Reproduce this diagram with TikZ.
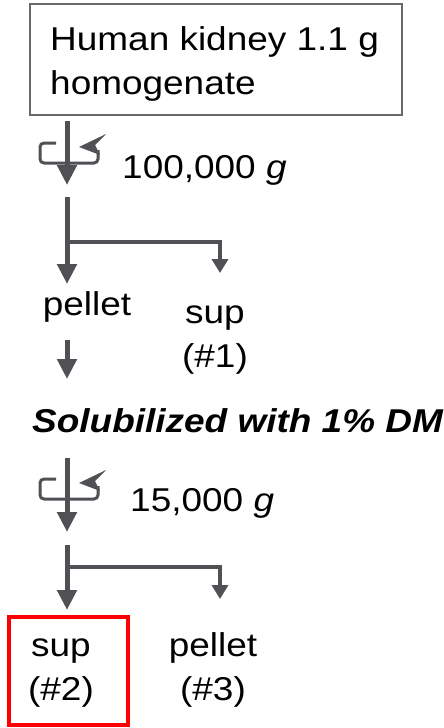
\documentclass[tikz,border=0pt]{standalone}
\usepackage{fontspec}
\setmainfont{Liberation Sans}[FakeStretch=1.12]
\usetikzlibrary{arrows.meta,positioning}
\definecolor{flowgray}{RGB}{80,80,85}
\definecolor{framegray}{RGB}{105,105,105}
\newcommand{\bigtxt}{\fontsize{33}{44}\selectfont}

\begin{document}
\begin{tikzpicture}[
    x=1pt, y=-1pt,
    box/.style={rectangle, draw=framegray, line width=1.5pt, minimum width=372pt, minimum height=111pt},
    lbl/.style={inner sep=0pt, align=center, font=\bigtxt},
    arrow/.style={-{Triangle[length=20pt,width=19pt]}, line width=5pt, draw=flowgray},
    branch/.style={-{Triangle[length=14pt,width=16pt]}, line width=4pt, draw=flowgray},
    spin/.style={line width=3pt, draw=flowgray, rounded corners=4pt},
    spinhead/.style={fill=flowgray},
    hilite/.style={draw=red, line width=4pt}
]
    \useasboundingbox (0,0) rectangle (444,728);

    % first spin
    \node[box] (homog) at (216,59.5) {};
    \node[lbl, align=left, anchor=base west] (homogtxt) at (50,94) {Human kidney 1.1 g\\homogenate};
    \coordinate (spin1top) at (67,121);
    \coordinate (spin1tip) at (67,185);
    \draw[arrow] (spin1top) -- (spin1tip);
    \draw[spin] (56,143) -- (40,143) -- (40,163) -- (98,163) -- (98,150);
    \fill[spinhead] (79,147) -- (106,134) -- (95,145) -- (100,155) -- cycle;
    \node[lbl, anchor=base west] (speed1) at (122,178) {100,000 \textit{g}};

    \coordinate (split1top) at (67,197);
    \coordinate (split1fork) at (67,242);
    \coordinate (pellet1in) at (67,284);
    \coordinate (sup1in) at (220,273);
    \draw[arrow] (split1top) -- (pellet1in);
    \draw[branch] (split1fork) -| (sup1in);

    \node[lbl, anchor=base] (pellet1) at (87,315) {pellet};
    \node[lbl, anchor=base] (sup1) at (215,367) {sup\\(\#1)};
    \coordinate (pellet1out) at (67,340);
    \coordinate (solubin) at (67,379);
    \draw[arrow] (pellet1out) -- (solubin);

    % second spin
    \node[lbl, anchor=base west, font=\bigtxt\bfseries\itshape] (solub) at (32,432) {Solubilized with 1\% DM};
    \coordinate (spin2top) at (67,458);
    \coordinate (spin2tip) at (67,532);
    \draw[arrow] (spin2top) -- (spin2tip);
    \draw[spin] (56,479) -- (40,479) -- (40,499) -- (98,499) -- (98,486);
    \fill[spinhead] (79,483) -- (106,470) -- (95,481) -- (100,491) -- cycle;
    \node[lbl, anchor=base west] (speed2) at (130,511) {15,000 \textit{g}};

    \coordinate (split2top) at (67,545);
    \coordinate (split2fork) at (67,567);
    \coordinate (sup2in) at (67,610);
    \coordinate (pellet2in) at (220,599);
    \draw[arrow] (split2top) -- (sup2in);
    \draw[branch] (split2fork) -| (pellet2in);

    \node[lbl, anchor=base] (sup2) at (61,700) {sup\\(\#2)};
    \node[lbl, anchor=base] (pellet2) at (213,700) {pellet\\(\#3)};
    \draw[hilite] (9,617) rectangle (128,725);
\end{tikzpicture}
\end{document}
